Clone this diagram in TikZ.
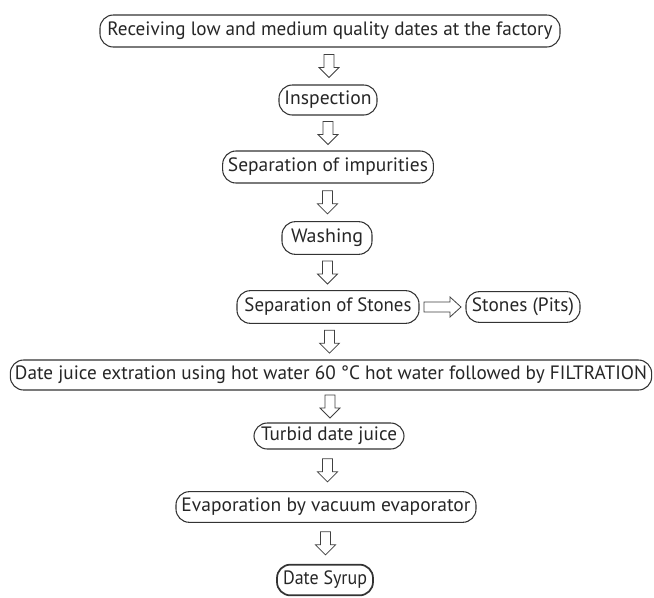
\documentclass[tikz,border=0pt]{standalone}
\usepackage{graphicx}
\usepackage{fontspec}
\setmainfont{PT Sans}
\usetikzlibrary{calc}
\tikzset{
  stepbox/.style={draw=black!80, line width=0.8pt, rounded corners=10pt,
    minimum height=23pt, inner sep=0pt, text=black!85,
    font=\fontsize{14.5}{16}\selectfont},
  endbox/.style={stepbox, line width=1.3pt},
  flowarrow/.style={draw=black!75, line width=0.6pt, fill=white, line join=miter},
}
\newcommand\fitw[2]{\resizebox{#1}{\height}{#2}}
\newcommand\flowdown[2]{%
  \draw[flowarrow] ($(#1.south)!0.5!(#2.north)$) ++(-5,-11.5) -- ++(10,0) -- ++(0,13)
    -- ++(5,0) -- ++(-10,10) -- ++(-10,-10) -- ++(5,0) -- cycle;}
\newcommand\flowright[2]{%
  \draw[flowarrow] ($(#1.east)!0.5!(#2.west)$) ++(-18.5,-5) -- ++(26,0) -- ++(0,-5)
    -- ++(11,10) -- ++(-11,10) -- ++(0,-5) -- ++(-26,0) -- cycle;}
\begin{document}
\begin{tikzpicture}[x=0.75pt, y=-0.75pt]
\useasboundingbox[fill=white] (0,0) rectangle (654,597);
\node[stepbox, minimum width=345pt, minimum height=24pt] (n1) at (330,31)
  {\fitw{333.75pt}{Receiving low and medium quality dates at the factory}};
\node[stepbox, minimum width=73.5pt, minimum height=22.5pt] (n2) at (328,100) {\fitw{65.25pt}{Inspection}};
\node[stepbox, minimum width=158pt, minimum height=24pt] (n3) at (328,167) {\fitw{150pt}{Separation of impurities}};
\node[stepbox, minimum width=67.5pt, minimum height=24.5pt] (n4) at (327,238) {\fitw{54pt}{Washing}};
\node[stepbox, minimum width=136.5pt, minimum height=24.5pt] (n5) at (328,307) {\fitw{125.25pt}{Separation of Stones}};
\node[stepbox, minimum width=85.5pt] (n6) at (523,307) {\fitw{76.5pt}{Stones (Pits)}};
\node[stepbox, minimum width=481pt, minimum height=22.5pt] (n7) at (331,375)
  {\fitw{474pt}{Date juice extration using hot water 60 °C hot water followed by FILTRATION}};
\node[stepbox, minimum width=112.5pt, minimum height=19.5pt] (n8) at (329,436) {\fitw{102pt}{Turbid date juice}};
\node[stepbox, minimum width=225pt] (n9) at (326,507) {\fitw{216.75pt}{Evaporation by vacuum evaporator}};
\node[endbox, minimum width=72pt] (n10) at (325,580) {\fitw{63pt}{Date Syrup}};
\flowdown{n1}{n2}
\flowdown{n2}{n3}
\flowdown{n3}{n4}
\flowdown{n4}{n5}
\flowright{n5}{n6}
\flowdown{n5}{n7}
\flowdown{n7}{n8}
\flowdown{n8}{n9}
\flowdown{n9}{n10}
\end{tikzpicture}
\end{document}
